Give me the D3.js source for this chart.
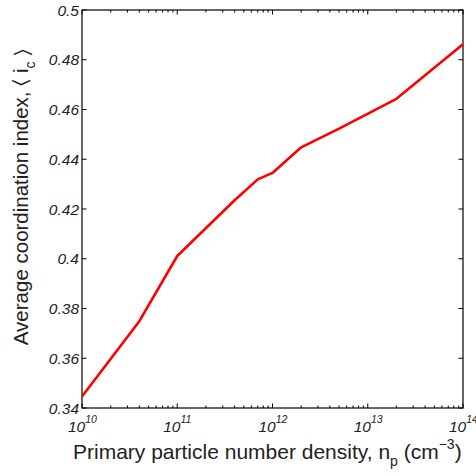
<!DOCTYPE html>
<html>
<head>
<meta charset="utf-8">
<script src="https://cdn.jsdelivr.net/npm/d3@7"></script>
<style>
body { margin: 0; background: #fff; }
text { font-family: "Liberation Sans", Arial, sans-serif; fill: #222; }
</style>
</head>
<body>
<div id="chart"></div>
<script>
var width = 476;
var height = 476;
var margin = {top: 10, right: 13, bottom: 68, left: 82};

// data
var density = [1e10, 4e10, 1e11, 4e11, 7e11, 1e12, 2e12, 5e12, 2e13, 1e14];
var coordIndex = [0.3446, 0.3749, 0.4011, 0.4235, 0.4319, 0.4345, 0.4448, 0.4523, 0.4643, 0.4862];
var yTicks = [0.34, 0.36, 0.38, 0.4, 0.42, 0.44, 0.46, 0.48, 0.5];
var xExponents = [10, 11, 12, 13, 14];

var w = width - margin.left - margin.right;
var h = height - margin.top - margin.bottom;

var svg = d3.select("#chart")
	.append("svg")
		.attr("width", width)
		.attr("height", height);

var g = svg.append("g")
	.attr("transform", "translate(" + margin.left + "," + margin.top + ")");

var x = d3.scaleLog().domain([1e10, 1e14]).range([0, w]);
var y = d3.scaleLinear().domain([0.34, 0.5]).range([h, 0]);

// minor ticks for log axis
var minor = [];
xExponents.slice(0, -1).forEach(function (e) {
	for (var k = 2; k <= 9; k++) minor.push(k * Math.pow(10, e));
});
var major = xExponents.map(function (e) { return Math.pow(10, e); });

// frame
g.append("rect")
	.attr("width", w).attr("height", h)
	.attr("fill", "none").attr("stroke", "#000").attr("stroke-width", 1.2);

// inward ticks
function tickLines(vals, len, cls) {
	g.selectAll("line." + cls + "b").data(vals).enter().append("line")
		.attr("x1", function (d) { return x(d); }).attr("x2", function (d) { return x(d); })
		.attr("y1", h).attr("y2", h - len).attr("stroke", "#000");
	g.selectAll("line." + cls + "t").data(vals).enter().append("line")
		.attr("x1", function (d) { return x(d); }).attr("x2", function (d) { return x(d); })
		.attr("y1", 0).attr("y2", len).attr("stroke", "#000");
}
tickLines(minor, 2.5, "mi");
tickLines(major, 4.5, "ma");

g.selectAll("line.yl").data(yTicks).enter().append("line")
	.attr("x1", 0).attr("x2", 4.5)
	.attr("y1", function (d) { return y(d); }).attr("y2", function (d) { return y(d); })
	.attr("stroke", "#000");
g.selectAll("line.yr").data(yTicks).enter().append("line")
	.attr("x1", w).attr("x2", w - 4.5)
	.attr("y1", function (d) { return y(d); }).attr("y2", function (d) { return y(d); })
	.attr("stroke", "#000");

// y tick labels
g.selectAll("text.ytl").data(yTicks).enter().append("text")
	.attr("x", -3)
	.attr("y", function (d) { return y(d) + 5.5; })
	.attr("text-anchor", "end")
	.style("font-size", "15.5px")
	.style("font-style", "italic")
	.text(function (d) { return String(d); });

// x tick labels 10^e
var xl = g.selectAll("text.xtl").data(xExponents).enter().append("text")
	.attr("x", function (d) { return x(Math.pow(10, d)) - 14; })
	.attr("y", h + 23.5)
	.style("font-size", "15.5px")
	.style("font-style", "italic");
xl.append("tspan").text("10");
xl.append("tspan").attr("dy", -9).style("font-size", "10.5px").text(function (d) { return d; });

// data line
var line = d3.line()
	.x(function (d, i) { return x(density[i]); })
	.y(function (d) { return y(d); });

g.append("path")
	.datum(coordIndex)
	.attr("d", line)
	.attr("fill", "none")
	.attr("stroke", "#ff0000")
	.attr("stroke-width", 2.6)
	.attr("stroke-linejoin", "round");

// axis labels
var xt = svg.append("text")
	.attr("x", 73).attr("y", 459)
	.style("font-size", "21px");
xt.append("tspan").text("Primary particle number density, n");
xt.append("tspan").attr("dy", 7).style("font-size", "14px").text("p");
xt.append("tspan").attr("dy", -7).text(" (cm");
xt.append("tspan").attr("dy", -10).style("font-size", "14px").text("\u22123");
xt.append("tspan").attr("dy", 10).text(")");

var yt = svg.append("text")
	.attr("transform", "translate(27.5,197) rotate(-90)")
	.attr("text-anchor", "middle")
	.style("font-size", "20.5px");
yt.append("tspan").text("Average coordination index, \u2329 i");
yt.append("tspan").attr("dy", 7).style("font-size", "14px").text("c");
yt.append("tspan").attr("dy", -7).text(" \u232A");
</script>
</body>
</html>
